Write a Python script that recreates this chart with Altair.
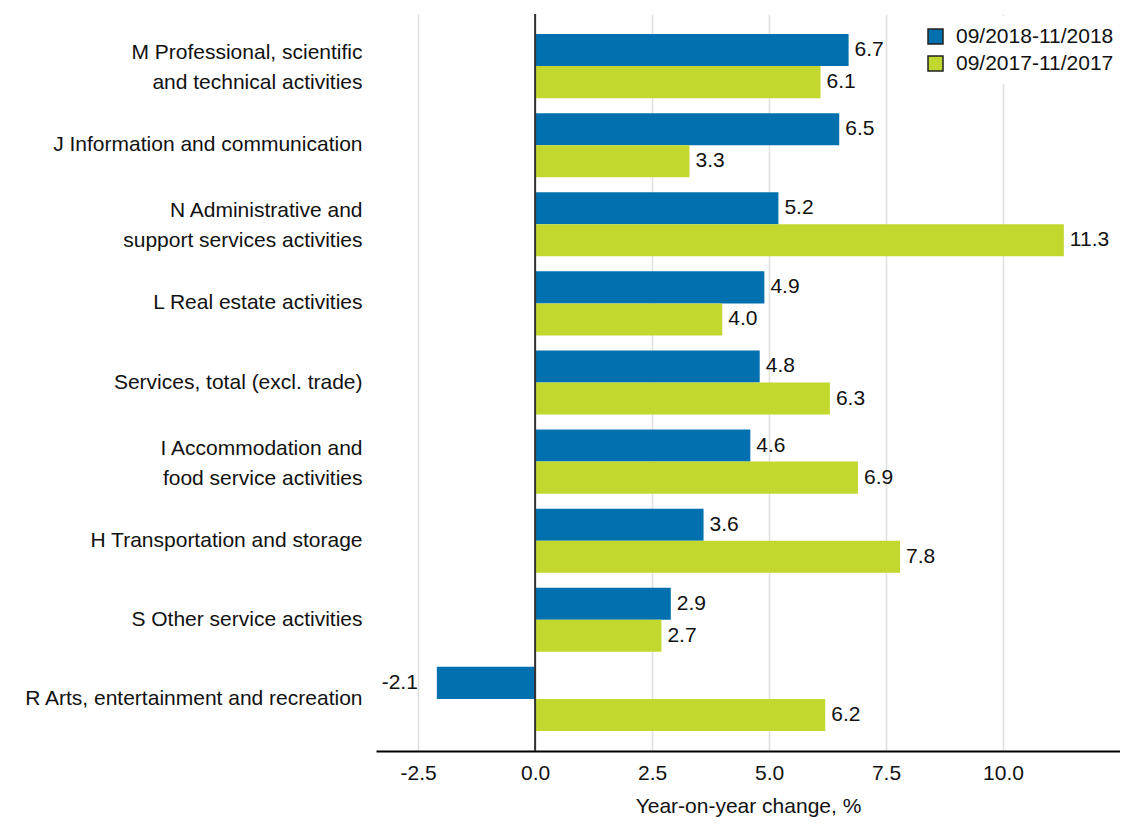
import altair as alt
import pandas as pd

categories = [
    "M Professional, scientific\u00a0|and technical activities",
    "J Information and communication",
    "N Administrative and\u00a0|support services activities",
    "L Real estate activities",
    "Services, total (excl. trade)",
    "I Accommodation and\u00a0|food service activities",
    "H Transportation and storage",
    "S Other service activities",
    "R Arts, entertainment and recreation",
]
series = ["09/2018-11/2018", "09/2017-11/2017"]
values_2018 = [6.7, 6.5, 5.2, 4.9, 4.8, 4.6, 3.6, 2.9, -2.1]
values_2017 = [6.1, 3.3, 11.3, 4.0, 6.3, 6.9, 7.8, 2.7, 6.2]
x_ticks = [-2.5, 0.0, 2.5, 5.0, 7.5, 10.0]
colors = ["#0070AE", "#C2D82F"]

rows = []
for c, a, b in zip(categories, values_2018, values_2017):
    rows.append({"category": c, "series": series[0], "value": a})
    rows.append({"category": c, "series": series[1], "value": b})
df = pd.DataFrame(rows)

FONT = "Liberation Sans"
MINUS_FIX = "replace(format(datum.value, '.1f'), '\u2212', '-')"

y_enc = alt.Y(
    "category:N",
    sort=categories,
    scale=alt.Scale(paddingInner=0.19, paddingOuter=0.254),
    axis=alt.Axis(
        title=None,
        labelExpr="split(datum.label, '|')",
        labelOffset={"condition": {"test": "indexof(datum.label, '|') >= 0", "value": -13}, "value": 0},
        labelFontSize=21,
        labelLineHeight=30,
        labelPadding=14,
        labelLimit=0,
        labelColor="#111",
        labelFont=FONT,
        ticks=False,
        domain=False,
        grid=False,
    ),
)
yoff_enc = alt.YOffset("series:N", sort=series, scale=alt.Scale(paddingInner=0, paddingOuter=0))
x_enc = alt.X(
    "value:Q",
    scale=alt.Scale(domain=[-3.4, 12.5], nice=False, zero=False),
    axis=alt.Axis(
        values=x_ticks,
        labelExpr=MINUS_FIX,
        title="Year-on-year change, %",
        titleFont=FONT,
        titleFontSize=21,
        titleFontWeight="normal",
        titleColor="#111",
        titlePadding=12,
        labelFont=FONT,
        labelFontSize=21,
        labelColor="#111",
        labelPadding=11,
        ticks=False,
        domainColor="#000",
        domainWidth=2,
        grid=True,
        gridColor="#E0E0E0",
        gridWidth=1.5,
    ),
)

base = alt.Chart(df).transform_calculate(label=MINUS_FIX)

bars = base.mark_bar().encode(
    x=x_enc,
    y=y_enc,
    yOffset=yoff_enc,
    color=alt.Color(
        "series:N",
        sort=series,
        scale=alt.Scale(domain=series, range=colors),
        legend=alt.Legend(
            title=None,
            orient="none",
            legendX=539,
            legendY=2,
            padding=10,
            fillColor="white",
            symbolType="square",
            symbolSize=225,
            symbolStrokeColor="#222",
            symbolStrokeWidth=1.5,
            symbolOpacity=1,
            labelFont=FONT,
            labelFontSize=21,
            labelColor="#111",
            labelOffset=10,
            rowPadding=5,
        ),
    ),
)

pos_text = base.transform_filter("datum.value >= 0").mark_text(
    align="left", baseline="middle", dx=6, font=FONT, fontSize=21, color="#111"
).encode(
    x="value:Q",
    y=alt.Y("category:N", sort=categories),
    yOffset=alt.YOffset("series:N", sort=series),
    text="label:N",
)

neg_text = base.transform_filter("datum.value < 0").mark_text(
    align="right", baseline="middle", dx=-19, font=FONT, fontSize=21, color="#111"
).encode(
    x="value:Q",
    y=alt.Y("category:N", sort=categories),
    yOffset=alt.YOffset("series:N", sort=series),
    text="label:N",
)

zero_rule = alt.Chart(pd.DataFrame({"zero": [0.0]})).mark_rule(
    color="#333", strokeWidth=2
).encode(x="zero:Q")

chart = (
    alt.layer(bars, zero_rule, pos_text, neg_text)
    .properties(
        width=744,
        height=737,
        autosize=alt.AutoSizeParams(type="none"),
        padding={"left": 368, "top": 6, "right": 0, "bottom": 69},
    )
    .configure(font=FONT)
    .configure_view(stroke=None)
)

chart.save("out.html", embed_options={"renderer": "svg", "actions": False})
